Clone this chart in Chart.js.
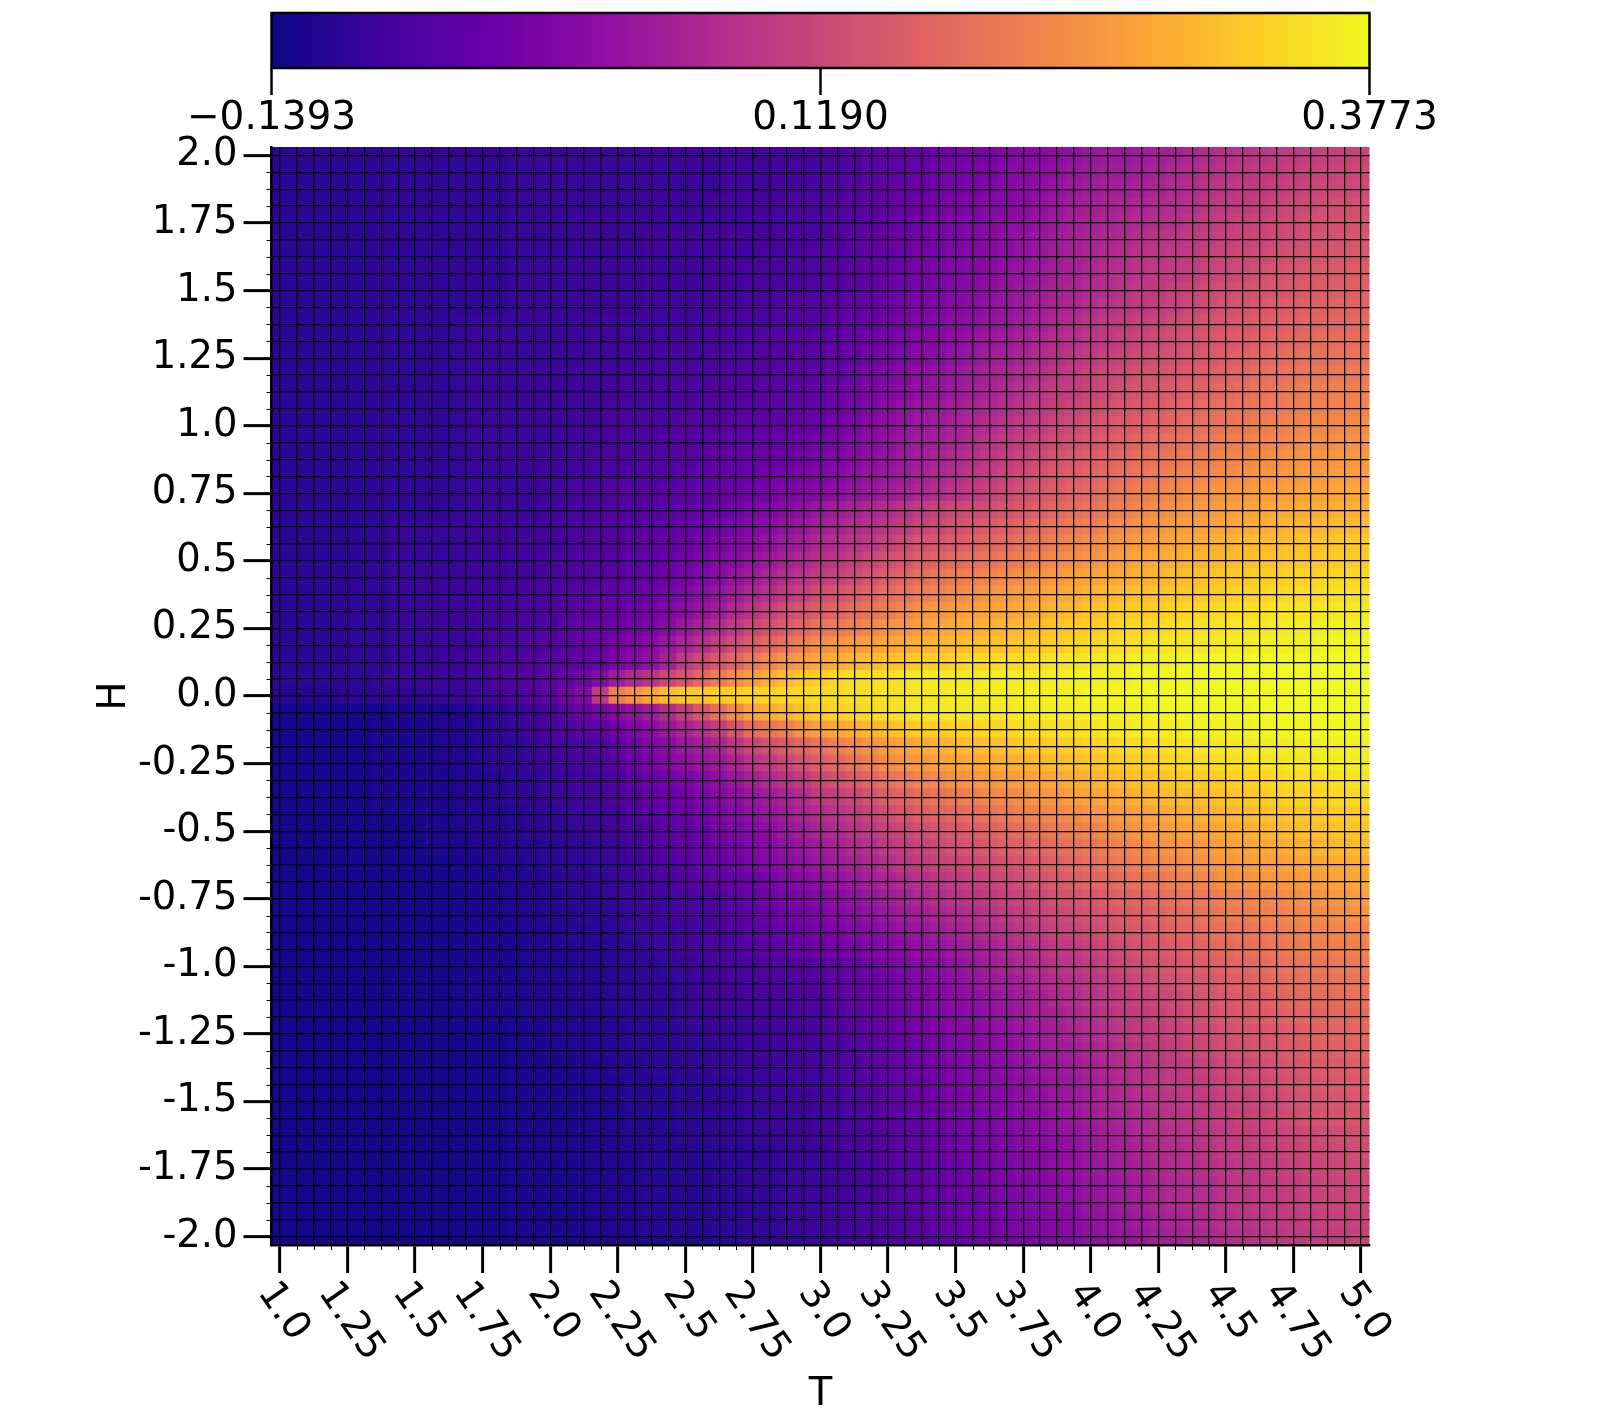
<!DOCTYPE html>
<html lang="en">
<head>
<meta charset="UTF-8">
<title>T-H heatmap</title>
<script src="https://cdn.jsdelivr.net/npm/chart.js"></script>
<style>
  body { margin: 0; background: #fff; }
  canvas { position: absolute; left: 0; top: 0; }
</style>
</head>
<body>
<canvas id="heat" width="1600" height="1420"></canvas>
<canvas id="bar" width="1600" height="146"></canvas>
<script>
const zMin = -0.1393;
const zMax = 0.3773;
const colorbarTicks = [-0.1393, 0.119, 0.3773];
const colorbarLabels = ["\u22120.1393", "0.1190", "0.3773"];

const tTicks = [1, 1.25, 1.5, 1.75, 2, 2.25, 2.5, 2.75, 3, 3.25, 3.5, 3.75, 4, 4.25, 4.5, 4.75, 5];
const tLabels = ["1.0", "1.25", "1.5", "1.75", "2.0", "2.25", "2.5", "2.75", "3.0", "3.25", "3.5", "3.75", "4.0", "4.25", "4.5", "4.75", "5.0"];
const hTicks = [2, 1.75, 1.5, 1.25, 1, 0.75, 0.5, 0.25, 0, -0.25, -0.5, -0.75, -1, -1.25, -1.5, -1.75, -2];
const hLabels = ["2.0", "1.75", "1.5", "1.25", "1.0", "0.75", "0.5", "0.25", "0.0", "-0.25", "-0.5", "-0.75", "-1.0", "-1.25", "-1.5", "-1.75", "-2.0"];

const tValues = [1, 1.0625, 1.125, 1.1875, 1.25, 1.3125, 1.375, 1.4375, 1.5, 1.5625, 1.625, 1.6875, 1.75, 1.8125, 1.875, 1.9375,
  2, 2.0625, 2.125, 2.1875, 2.25, 2.3125, 2.375, 2.4375, 2.5, 2.5625, 2.625, 2.6875, 2.75, 2.8125, 2.875, 2.9375,
  3, 3.0625, 3.125, 3.1875, 3.25, 3.3125, 3.375, 3.4375, 3.5, 3.5625, 3.625, 3.6875, 3.75, 3.8125, 3.875, 3.9375,
  4, 4.0625, 4.125, 4.1875, 4.25, 4.3125, 4.375, 4.4375, 4.5, 4.5625, 4.625, 4.6875, 4.75, 4.8125, 4.875, 4.9375, 5];
const hValues = [2, 1.9375, 1.875, 1.8125, 1.75, 1.6875, 1.625, 1.5625, 1.5, 1.4375, 1.375, 1.3125, 1.25, 1.1875, 1.125, 1.0625,
  1, 0.9375, 0.875, 0.8125, 0.75, 0.6875, 0.625, 0.5625, 0.5, 0.4375, 0.375, 0.3125, 0.25, 0.1875, 0.125, 0.0625,
  0, -0.0625, -0.125, -0.1875, -0.25, -0.3125, -0.375, -0.4375, -0.5, -0.5625, -0.625, -0.6875, -0.75, -0.8125, -0.875, -0.9375,
  -1, -1.0625, -1.125, -1.1875, -1.25, -1.3125, -1.375, -1.4375, -1.5, -1.5625, -1.625, -1.6875, -1.75, -1.8125, -1.875, -1.9375, -2];

// each cell, as percent along the colorbar. one row per H, top row is H = 2
const cellPct = [
[6,6,6,6,6,6,7,7,7,7,7,7,7,7,8,8,8,8,8,8,8,8,9,9,9,9,9,10,10,10,11,11,12,13,14,16,17,18,19,21,22,23,24,26,27,28,30,31,33,34,34,35,36,37,39,40,42,43,44,45,46,47,48,48,49],
[6,6,6,6,6,6,7,7,7,7,7,7,7,7,8,8,8,8,8,8,8,8,9,9,9,9,9,10,10,10,11,11,12,13,14,16,17,18,20,22,23,24,25,27,28,30,31,33,34,35,35,36,37,39,40,42,43,44,45,46,47,48,49,49,50],
[6,6,6,6,6,6,7,7,7,7,7,7,7,7,8,8,8,8,8,8,8,8,9,9,9,9,9,10,10,10,11,11,12,13,15,16,18,19,20,22,23,24,26,28,29,30,32,34,35,36,36,37,38,40,41,43,44,45,46,47,48,49,50,50,51],
[6,6,6,6,6,6,7,7,7,7,7,7,7,7,8,8,8,8,8,8,8,8,9,9,9,9,10,10,11,11,12,12,13,14,15,16,18,20,21,23,24,25,27,28,29,31,33,35,36,37,38,39,40,41,42,44,45,46,47,49,50,51,52,52,53],
[6,6,6,6,6,6,7,7,7,7,7,7,7,7,8,8,8,8,9,9,9,9,9,9,9,10,10,10,11,11,12,12,13,14,15,16,18,20,22,24,25,26,28,29,30,32,34,36,37,38,39,40,41,42,44,45,47,48,49,50,51,52,53,53,54],
[6,6,6,6,6,6,7,7,7,7,7,7,7,7,8,8,8,8,9,9,9,9,10,10,10,10,10,11,11,11,12,12,13,14,16,17,19,21,22,24,25,26,28,30,31,33,35,37,38,39,40,42,43,44,45,47,48,49,50,51,52,53,54,54,55],
[6,6,6,6,6,6,7,7,7,7,7,7,7,7,8,8,8,8,9,9,9,9,10,10,10,10,10,11,11,12,12,13,14,15,16,18,19,21,23,24,26,27,28,30,31,33,35,37,38,40,41,43,44,45,46,48,49,50,51,52,53,54,55,55,56],
[6,6,6,6,6,6,7,7,7,7,7,7,7,7,8,8,8,8,9,9,9,9,10,10,10,10,11,11,12,12,13,13,14,15,17,18,20,22,23,25,26,27,29,31,32,34,36,37,39,41,42,44,45,46,47,49,50,51,53,54,55,56,57,57,58],
[6,6,6,6,6,6,7,7,7,7,7,7,7,7,8,8,8,8,9,9,9,9,10,10,10,10,11,11,12,12,13,13,14,15,17,18,20,22,24,25,27,28,30,32,33,35,37,38,40,41,43,45,46,48,49,51,52,53,54,55,56,57,58,58,59],
[6,6,6,6,6,6,7,7,7,7,7,7,7,7,8,8,8,8,9,9,9,9,10,10,10,10,11,11,12,13,14,14,15,16,18,19,21,23,25,26,28,29,31,32,34,36,38,39,41,43,44,46,47,48,50,51,53,54,56,57,58,59,59,60,60],
[6,6,6,6,6,6,7,7,7,7,7,8,8,8,8,8,8,9,9,10,10,10,10,11,11,11,12,12,13,13,14,14,15,17,19,20,22,24,26,27,29,30,32,33,35,37,39,41,43,45,46,48,49,51,52,54,55,56,57,58,59,60,61,61,62],
[6,6,6,6,6,6,7,7,7,7,7,8,8,8,8,8,8,9,9,10,10,10,10,11,11,11,12,12,13,14,15,15,16,18,20,21,23,25,27,28,30,32,34,35,37,39,41,42,44,46,48,49,51,52,53,55,56,57,59,60,61,62,63,63,63],
[6,6,6,6,6,6,7,7,7,7,7,8,8,8,8,8,8,9,9,10,10,11,11,12,12,12,13,13,14,15,15,16,16,18,20,22,24,26,28,29,31,33,35,36,38,40,42,44,46,48,49,51,52,53,55,56,58,59,61,62,63,64,64,65,65],
[6,6,6,6,6,6,7,7,7,7,7,8,8,8,8,9,9,9,10,10,11,11,11,12,12,13,13,14,15,15,16,16,17,19,22,24,26,28,30,31,33,35,37,38,40,42,44,46,48,50,51,53,54,55,57,58,60,61,63,64,65,66,66,67,67],
[6,6,6,6,6,6,7,7,7,7,7,8,8,8,8,9,9,9,10,10,11,11,12,12,13,13,14,14,15,16,16,17,18,21,23,25,27,29,31,32,34,36,38,40,42,44,46,47,49,51,53,54,56,57,59,60,62,63,65,66,67,68,68,69,69],
[6,6,6,6,6,6,7,7,7,7,7,8,8,8,8,9,9,10,10,11,12,12,12,13,13,14,14,15,16,17,17,18,19,21,24,26,29,31,33,34,36,38,39,41,43,45,47,49,51,53,55,56,58,60,61,63,64,65,66,67,68,69,69,70,70],
[6,6,6,6,6,6,7,7,7,7,7,8,8,8,8,9,9,10,10,11,12,12,13,13,14,15,15,16,17,18,18,19,20,23,25,28,30,32,34,35,37,39,41,43,45,47,49,51,53,55,57,58,60,61,63,64,65,66,68,69,70,71,71,72,72],
[6,6,6,6,6,6,7,7,7,7,7,8,8,8,8,9,9,10,10,11,12,13,13,14,15,15,16,17,18,19,20,21,22,24,27,29,31,33,35,36,38,40,43,45,47,49,51,53,55,57,59,61,63,64,65,67,68,69,70,71,72,73,73,74,74],
[6,6,6,6,6,6,7,7,7,7,7,8,8,8,9,9,10,10,11,12,13,13,14,14,15,16,17,18,19,20,21,22,24,26,28,30,32,34,36,38,40,42,45,47,49,51,54,56,58,60,62,63,65,66,68,69,70,71,72,73,74,75,75,76,76],
[6,6,6,6,6,6,7,7,7,7,7,8,8,8,9,9,10,10,11,12,13,14,14,15,16,17,18,19,20,22,23,25,26,28,30,32,33,35,37,39,41,44,46,49,51,53,56,58,60,62,64,66,68,69,71,72,73,74,75,75,76,77,77,78,78],
[6,6,6,6,6,6,7,7,7,7,7,8,8,8,9,9,10,11,12,13,14,14,15,16,17,18,19,20,22,23,25,26,28,30,32,33,35,37,39,41,43,45,48,50,53,55,57,60,62,64,66,68,70,71,73,74,75,76,77,77,78,79,79,80,80],
[6,6,6,6,6,6,7,7,7,7,7,8,8,8,9,9,10,11,12,13,14,14,15,16,18,19,20,22,25,26,28,30,33,35,37,39,41,43,46,48,50,51,52,54,56,58,61,63,65,67,69,71,73,74,76,77,78,79,80,81,81,82,82,83,83],
[6,6,6,6,6,7,7,8,8,8,8,9,9,9,10,10,11,12,13,14,15,15,16,17,19,20,22,24,27,29,31,33,36,38,40,42,44,46,49,51,53,55,57,59,61,63,65,67,69,71,73,74,76,77,78,79,80,81,82,83,84,84,85,85,85],
[6,6,6,6,6,7,7,8,8,8,8,9,9,9,10,10,11,12,13,14,15,16,17,18,20,22,24,26,29,31,34,36,39,41,43,45,48,51,54,55,57,59,61,62,64,66,68,70,72,74,75,77,78,79,81,82,83,84,85,85,86,87,87,88,88],
[6,6,6,6,6,7,7,8,8,8,8,9,9,9,10,11,12,13,14,15,16,17,18,20,22,24,27,29,32,34,37,39,42,44,47,50,53,55,58,60,62,64,65,67,68,70,72,73,75,77,78,80,81,82,83,84,85,86,87,87,88,88,89,89,90],
[6,6,6,6,6,7,7,8,8,8,8,9,9,9,10,11,12,13,14,15,16,18,19,21,24,26,29,32,35,38,41,43,46,48,51,55,58,60,63,65,67,69,70,72,73,74,76,78,79,80,81,83,84,85,86,87,88,89,90,90,91,91,92,92,92],
[6,6,6,6,7,7,7,8,8,8,9,9,10,10,11,12,13,14,15,17,18,19,21,23,26,29,32,35,39,42,45,48,52,54,57,60,63,65,68,70,72,73,75,76,77,78,80,81,83,84,85,86,87,88,88,89,90,91,91,92,93,93,94,94,94],
[6,6,6,6,7,7,7,8,8,8,9,9,10,10,11,12,13,15,16,18,19,21,23,26,29,32,36,40,44,48,52,55,58,60,63,65,68,71,74,76,77,78,79,80,81,82,84,85,87,88,89,89,90,91,92,92,93,94,94,95,95,95,96,96,96],
[6,6,6,6,7,7,7,8,8,8,9,9,10,11,12,13,14,16,18,20,21,23,25,29,33,37,41,45,50,53,57,61,65,67,69,71,74,76,78,80,81,82,83,84,85,86,88,89,90,91,92,92,93,94,94,95,95,96,96,97,97,97,98,98,98],
[6,6,6,6,7,7,7,8,8,8,9,9,10,11,12,13,15,16,18,20,23,26,29,33,38,42,47,52,57,61,65,69,73,75,77,78,80,81,83,84,85,86,87,87,88,89,90,91,92,93,94,94,95,96,96,96,97,97,98,98,98,98,99,99,99],
[6,6,6,6,7,7,7,8,8,8,9,10,11,12,13,15,16,17,19,21,24,27,31,37,45,50,56,61,67,71,75,77,80,82,84,85,87,88,90,90,91,92,92,93,93,94,95,95,96,97,97,98,98,98,99,99,99,99,100,100,100,100,100,100,100],
[7,7,7,7,7,7,8,8,8,9,9,10,11,13,14,15,17,20,22,27,35,40,44,50,55,61,67,73,78,82,85,88,90,92,93,94,94,95,96,96,96,96,97,97,97,97,97,98,98,98,98,99,99,99,99,100,100,100,100,100,100,100,100,100,100],
[5,5,5,5,6,6,6,7,7,8,8,9,10,11,13,15,18,22,27,45,68,74,80,85,88,88,89,90,91,91,92,92,93,93,94,94,95,95,96,96,97,97,97,97,98,98,98,98,99,99,99,99,100,100,100,100,100,100,100,100,100,100,100,100,100],
[2,2,2,2,2,2,2,3,3,3,3,4,5,6,8,10,12,16,20,24,28,31,35,40,47,55,63,72,80,82,84,87,90,91,92,93,94,95,96,96,96,96,96,96,97,97,97,97,98,98,98,98,99,99,99,99,99,99,100,100,100,100,100,100,100],
[2,2,2,2,2,2,3,3,3,3,4,4,5,7,8,10,12,14,16,18,22,26,30,34,38,42,47,54,63,66,69,74,78,80,82,84,86,88,90,90,91,91,92,92,93,93,94,94,95,96,96,97,97,97,98,98,98,98,99,99,99,99,99,99,99],
[2,2,2,2,2,2,3,3,3,3,4,4,5,6,7,8,10,12,13,15,18,22,26,29,33,35,38,44,50,53,57,61,65,69,72,74,77,79,81,83,84,85,86,87,88,89,90,90,91,92,93,93,94,95,95,96,96,96,97,97,97,97,98,98,98],
[2,2,2,2,2,2,3,3,3,3,4,4,5,6,7,8,9,10,12,13,16,20,24,27,30,32,34,38,43,46,50,54,58,61,65,68,72,74,76,78,79,80,81,82,83,84,85,86,87,88,89,90,91,92,93,93,94,94,95,95,96,96,97,97,97],
[2,2,2,2,2,2,3,3,3,3,3,4,4,5,6,7,8,9,10,11,14,17,20,22,25,27,30,33,37,40,43,46,50,53,57,61,65,67,70,72,74,75,76,77,78,79,80,82,83,84,85,86,87,88,89,89,90,91,91,92,93,93,94,94,95],
[2,2,2,2,2,2,3,3,3,3,3,4,4,5,6,7,8,9,10,11,13,15,18,20,22,25,27,30,33,35,38,41,45,47,50,54,58,60,63,65,67,69,71,72,73,75,76,78,79,80,81,83,84,85,85,86,87,88,89,90,91,91,92,92,92],
[2,2,2,2,2,2,3,3,3,3,3,4,4,4,5,6,7,8,9,10,11,14,16,18,20,22,25,28,31,33,35,38,41,43,46,49,52,55,58,60,62,63,65,67,69,70,72,73,75,76,77,79,80,81,82,83,84,85,86,87,88,88,89,89,90],
[2,2,2,2,2,2,2,2,2,3,3,3,4,4,5,6,7,7,8,9,10,12,14,16,18,20,23,25,28,30,33,35,38,40,43,45,48,50,52,54,56,58,60,62,63,65,67,68,70,72,74,75,77,78,79,80,81,82,83,84,85,86,86,87,87],
[1,1,1,2,2,2,2,2,2,3,3,3,4,4,5,5,6,7,7,8,9,11,13,15,17,19,21,23,26,28,31,33,35,37,40,42,45,47,49,51,53,54,56,58,59,61,63,64,66,68,70,72,74,75,76,77,78,79,80,81,82,83,84,84,85],
[1,1,1,2,2,2,2,2,2,2,2,3,3,4,4,5,6,7,7,8,9,10,12,14,16,18,20,22,25,27,29,31,33,35,37,39,42,44,46,48,49,50,52,53,55,57,59,61,63,65,67,69,71,72,74,75,76,77,78,78,79,80,81,81,82],
[1,1,1,2,2,2,2,2,2,2,2,3,3,3,4,4,5,6,6,7,8,9,11,12,14,15,17,19,21,23,26,28,30,32,34,36,38,40,42,44,46,47,49,50,52,54,56,58,60,61,63,64,66,68,70,71,73,74,75,75,76,77,78,79,80],
[1,1,1,1,1,1,2,2,2,2,2,3,3,3,4,4,5,6,6,7,8,9,10,11,12,13,14,16,20,22,24,25,27,29,31,33,35,37,39,41,43,44,46,48,49,51,53,54,56,58,60,61,63,64,66,67,69,70,71,72,73,74,75,76,78],
[1,1,1,1,1,1,2,2,2,2,2,3,3,3,4,4,5,5,6,6,7,8,9,10,11,12,13,15,18,20,22,23,25,27,29,31,33,35,36,38,40,41,43,45,47,49,50,52,53,55,57,58,60,62,63,65,67,68,69,70,71,72,72,73,74],
[1,1,1,1,1,1,2,2,2,2,2,3,3,3,3,4,4,5,5,6,7,8,8,9,10,11,12,14,17,18,20,21,23,25,27,28,30,32,33,35,37,38,40,42,44,46,48,49,51,53,55,56,58,60,61,63,64,65,66,68,69,70,70,71,71],
[1,1,1,1,1,1,2,2,2,2,2,3,3,3,3,4,4,4,5,5,6,7,8,9,10,11,12,13,15,16,18,19,21,22,24,26,28,29,31,32,34,35,37,39,41,43,45,46,48,50,52,54,56,57,59,60,62,63,64,66,67,68,68,69,69],
[1,1,1,1,1,1,2,2,2,2,2,3,3,3,3,4,4,4,5,5,6,7,7,8,9,10,11,12,13,14,14,15,16,18,20,22,24,26,28,29,31,33,35,37,39,41,43,44,46,48,50,52,54,55,57,58,60,61,62,64,65,66,66,67,67],
[1,1,1,1,1,1,2,2,2,2,2,3,3,3,3,4,4,4,5,5,6,6,7,7,8,9,10,11,12,13,13,14,15,17,19,20,22,24,26,28,30,32,34,35,37,39,41,42,44,46,48,50,52,53,55,56,58,59,60,62,63,64,64,65,65],
[1,1,1,1,1,1,2,2,2,2,2,3,3,3,3,4,4,4,5,5,6,6,7,7,8,9,10,10,11,12,12,13,14,16,18,19,21,23,25,27,29,30,32,33,35,37,39,41,43,45,47,48,50,51,53,54,56,57,58,60,61,62,62,63,64],
[1,1,1,1,1,1,2,2,2,2,2,3,3,3,3,4,4,4,4,5,5,6,6,7,8,8,9,9,10,11,11,12,13,15,17,18,20,22,24,26,28,29,31,32,34,36,37,39,41,43,45,46,48,50,52,53,55,56,57,58,60,60,61,61,62],
[1,1,1,1,1,1,1,1,1,1,1,2,2,2,3,3,4,4,4,5,5,6,6,6,7,7,8,8,9,10,10,11,12,14,16,17,19,21,23,25,27,28,30,31,33,35,36,38,40,42,44,45,47,48,50,51,53,54,55,56,58,59,60,60,61],
[1,1,1,1,1,1,1,1,1,1,1,2,2,2,3,3,4,4,4,5,5,6,6,6,7,7,8,8,9,10,10,11,12,13,15,16,18,20,22,24,26,27,29,30,32,34,35,36,38,40,42,43,45,47,49,50,52,53,54,55,57,58,59,59,60],
[1,1,1,1,1,1,1,1,1,1,1,2,2,2,3,3,3,3,4,4,5,5,6,6,7,7,8,8,9,9,10,10,11,13,14,16,18,20,22,23,25,26,28,29,31,33,34,35,37,39,41,42,44,45,47,48,50,51,52,53,55,56,57,57,58],
[1,1,1,1,1,1,1,1,1,1,1,2,2,2,3,3,3,3,3,4,4,5,5,5,6,6,7,7,8,9,9,10,11,12,14,15,17,19,21,23,25,26,27,28,30,32,33,34,36,38,40,42,44,45,46,47,49,50,51,52,54,55,56,56,57],
[1,1,1,1,1,1,1,1,1,1,1,2,2,2,3,3,3,3,3,4,4,5,5,5,6,6,7,7,8,8,9,9,10,11,13,14,16,18,20,22,24,25,27,28,30,31,33,34,36,38,40,41,43,44,45,46,48,49,50,51,53,54,55,55,56],
[1,1,1,1,1,1,1,1,1,1,1,2,2,2,3,3,3,3,3,4,4,5,5,5,6,6,7,7,8,8,9,9,10,11,13,14,16,18,19,21,23,24,26,27,29,30,32,33,35,37,38,40,42,43,44,45,47,48,49,50,52,53,54,54,55],
[1,1,1,1,1,1,1,1,1,1,1,2,2,2,3,3,3,3,3,4,4,5,5,5,6,6,7,7,8,8,9,9,10,11,12,13,15,17,18,20,22,23,25,26,28,29,31,32,34,36,37,39,41,42,43,44,46,47,48,49,50,51,52,52,53],
[1,1,1,1,1,1,1,1,1,1,1,2,2,2,3,3,3,3,3,4,4,4,5,5,5,5,6,6,7,7,8,8,9,10,12,13,15,17,18,20,22,23,24,26,27,28,30,31,33,35,36,38,40,41,42,43,45,46,47,48,49,50,51,51,52],
[1,1,1,1,1,1,1,1,1,1,1,2,2,2,3,3,3,3,3,4,4,4,5,5,5,5,6,6,7,7,8,8,9,10,11,12,14,16,17,19,21,22,24,25,27,28,30,31,33,34,36,37,39,40,41,42,44,45,46,47,48,49,50,50,51],
[1,1,1,1,1,1,1,1,1,1,1,2,2,2,3,3,3,3,3,4,4,4,5,5,5,5,6,6,7,7,8,8,9,10,11,12,14,16,17,19,21,22,23,25,26,27,29,30,32,33,35,36,38,39,40,41,43,44,45,46,47,48,49,49,50],
[1,1,1,1,1,1,1,1,1,1,1,2,2,2,3,3,3,3,3,4,4,4,5,5,5,5,6,6,7,7,8,8,9,10,11,12,14,15,17,18,20,21,23,25,26,27,29,30,32,33,35,36,38,39,40,41,43,44,45,46,47,48,49,49,50],
[1,1,1,1,1,1,1,1,1,1,1,2,2,2,3,3,3,3,3,4,4,4,5,5,5,5,6,6,7,7,8,8,9,10,11,12,13,15,16,18,20,21,22,24,25,26,28,29,31,32,34,35,37,38,39,40,42,43,44,45,46,47,48,48,49],
[1,1,1,1,1,1,1,1,1,1,1,2,2,2,3,3,3,3,3,4,4,4,5,5,5,5,6,6,7,7,8,8,9,10,11,12,13,14,16,18,19,21,22,24,25,26,28,29,31,32,33,34,36,37,38,39,41,42,43,44,45,46,47,47,48]
];

const plasmaStops = ["#0d0887", "#41049d", "#6a00a8", "#8f0da4", "#b12a90", "#cc4778", "#e16462", "#f1844b", "#fca636", "#fcce25", "#f0f921"];

function hexRgb(h) {
  return [parseInt(h.slice(1, 3), 16), parseInt(h.slice(3, 5), 16), parseInt(h.slice(5, 7), 16)];
}
function plasma(f) {
  const p = Math.min(Math.max(f, 0), 1) * (plasmaStops.length - 1);
  const i = Math.min(Math.floor(p), plasmaStops.length - 2);
  const a = hexRgb(plasmaStops[i]), b = hexRgb(plasmaStops[i + 1]);
  const m = p - i;
  return "rgb(" + a.map((c, k) => Math.round(c + (b[k] - c) * m)).join(",") + ")";
}

const cells = [];
const cellColors = [];
hValues.forEach((h, j) => {
  tValues.forEach((t, i) => {
    const z = zMin + cellPct[j][i] / 100 * (zMax - zMin);
    cells.push({ x: t, y: h });
    cellColors.push(plasma((z - zMin) / (zMax - zMin)));
  });
});

const FONT = "'DejaVu Sans'";
const half = 0.03125;

// short minor ticks and the slanted T labels, chart.js can't rotate clockwise from the tick
const axisExtras = {
  id: "axisExtras",
  afterDraw(chart) {
    const { ctx, chartArea, scales } = chart;
    ctx.save();
    ctx.strokeStyle = "#000";
    ctx.lineWidth = 1;
    tValues.filter(v => !tTicks.includes(v)).forEach(v => {
      const x = Math.round(scales.x.getPixelForValue(v)) + 0.5;
      ctx.beginPath(); ctx.moveTo(x, chartArea.bottom); ctx.lineTo(x, chartArea.bottom + 5); ctx.stroke();
    });
    hValues.filter(v => !hTicks.includes(v)).forEach(v => {
      const y = Math.round(scales.y.getPixelForValue(v)) + 0.5;
      ctx.beginPath(); ctx.moveTo(chartArea.left, y); ctx.lineTo(chartArea.left - 5, y); ctx.stroke();
    });
    const angle = 55 * Math.PI / 180;
    ctx.font = "38.5px " + FONT;
    ctx.fillStyle = "#000";
    ctx.textAlign = "center";
    ctx.textBaseline = "middle";
    tTicks.forEach((v, i) => {
      const w = ctx.measureText(tLabels[i]).width;
      const boxH = w * Math.sin(angle) + 30 * Math.cos(angle);
      ctx.save();
      ctx.translate(scales.x.getPixelForValue(v) + 3, 1278 + boxH / 2);
      ctx.rotate(angle);
      ctx.fillText(tLabels[i], 0, 0);
      ctx.restore();
    });
    ctx.restore();
  }
};

const frame = {
  id: "frame",
  afterDraw(chart) {
    const a = chart.chartArea;
    chart.ctx.save();
    chart.ctx.strokeStyle = "#000";
    chart.ctx.lineWidth = 2.5;
    chart.ctx.strokeRect(a.left, a.top, a.right - a.left, a.bottom - a.top);
    chart.ctx.restore();
  }
};

new Chart(document.getElementById("heat"), {
  type: "scatter",
  data: {
    datasets: [{
      data: cells,
      pointStyle: "rect",
      // a bit over one cell wide, the overlap hides the antialiased seams
      pointRadius: 13,
      pointBorderWidth: 0,
      pointBackgroundColor: cellColors,
      showLine: false,
      clip: 0
    }]
  },
  options: {
    responsive: false,
    animation: false,
    events: [],
    layout: { padding: { top: 147, right: 230.5, left: 0, bottom: 0 } },
    plugins: { legend: { display: false }, tooltip: { enabled: false } },
    scales: {
      x: {
        type: "linear",
        min: 1 - half,
        max: 5 + half,
        afterBuildTicks: s => { s.ticks = tValues.map(v => ({ value: v })); },
        afterFit: s => { s.height = 175; },
        ticks: { display: false, autoSkip: false },
        grid: {
          z: 1,
          color: "#000",
          lineWidth: 1.25,
          tickLength: 28,
          tickColor: "#000",
          tickWidth: c => tTicks.includes(c.tick.value) ? 3 : 0
        },
        border: { display: true, color: "#000", width: 2.5, z: 2 },
        title: { display: true, text: "T", color: "#000", font: { family: FONT, size: 38.5, lineHeight: 1 }, padding: { top: 0, bottom: 6 } }
      },
      y: {
        type: "linear",
        min: -2 - half,
        max: 2 + half,
        afterBuildTicks: s => { s.ticks = hValues.map(v => ({ value: v })); },
        afterFit: s => { s.width = 271.5; },
        ticks: {
          autoSkip: false,
          color: "#000",
          padding: 6,
          font: { family: FONT, size: 38.5 },
          callback: v => {
            const i = hTicks.indexOf(v);
            return i >= 0 ? hLabels[i] : "";
          }
        },
        grid: {
          z: 1,
          color: "#000",
          lineWidth: 1.25,
          tickLength: 28,
          tickColor: "#000",
          tickWidth: c => hTicks.includes(c.tick.value) ? 3 : 0
        },
        border: { display: true, color: "#000", width: 2.5, z: 2 },
        title: { display: true, text: "H", color: "#000", font: { family: FONT, size: 38.5, lineHeight: 1 }, padding: { top: 96, bottom: 0 } }
      }
    }
  },
  plugins: [axisExtras]
});

new Chart(document.getElementById("bar"), {
  type: "bar",
  data: {
    labels: [""],
    datasets: [{
      data: [[zMin, zMax]],
      barPercentage: 1,
      categoryPercentage: 1,
      backgroundColor: c => {
        const a = c.chart.chartArea;
        if (!a) return plasmaStops[0];
        const g = c.chart.ctx.createLinearGradient(a.left, 0, a.right, 0);
        plasmaStops.forEach((col, i) => g.addColorStop(i / (plasmaStops.length - 1), col));
        return g;
      }
    }]
  },
  options: {
    indexAxis: "y",
    responsive: false,
    animation: false,
    events: [],
    layout: { padding: { top: 13, left: 271.5, right: 230.5, bottom: 0 } },
    plugins: { legend: { display: false }, tooltip: { enabled: false } },
    scales: {
      x: {
        type: "linear",
        min: zMin,
        max: zMax,
        afterBuildTicks: s => { s.ticks = colorbarTicks.map(v => ({ value: v })); },
        afterFit: s => { s.height = 78; },
        ticks: {
          autoSkip: false,
          maxRotation: 0,
          color: "#000",
          padding: 0,
          font: { family: FONT, size: 39 },
          callback: v => colorbarLabels[colorbarTicks.indexOf(v)]
        },
        grid: { drawOnChartArea: false, tickLength: 27, tickWidth: 2.5, tickColor: "#000" },
        border: { display: false }
      },
      y: { display: false }
    }
  },
  plugins: [frame]
});
</script>
</body>
</html>
